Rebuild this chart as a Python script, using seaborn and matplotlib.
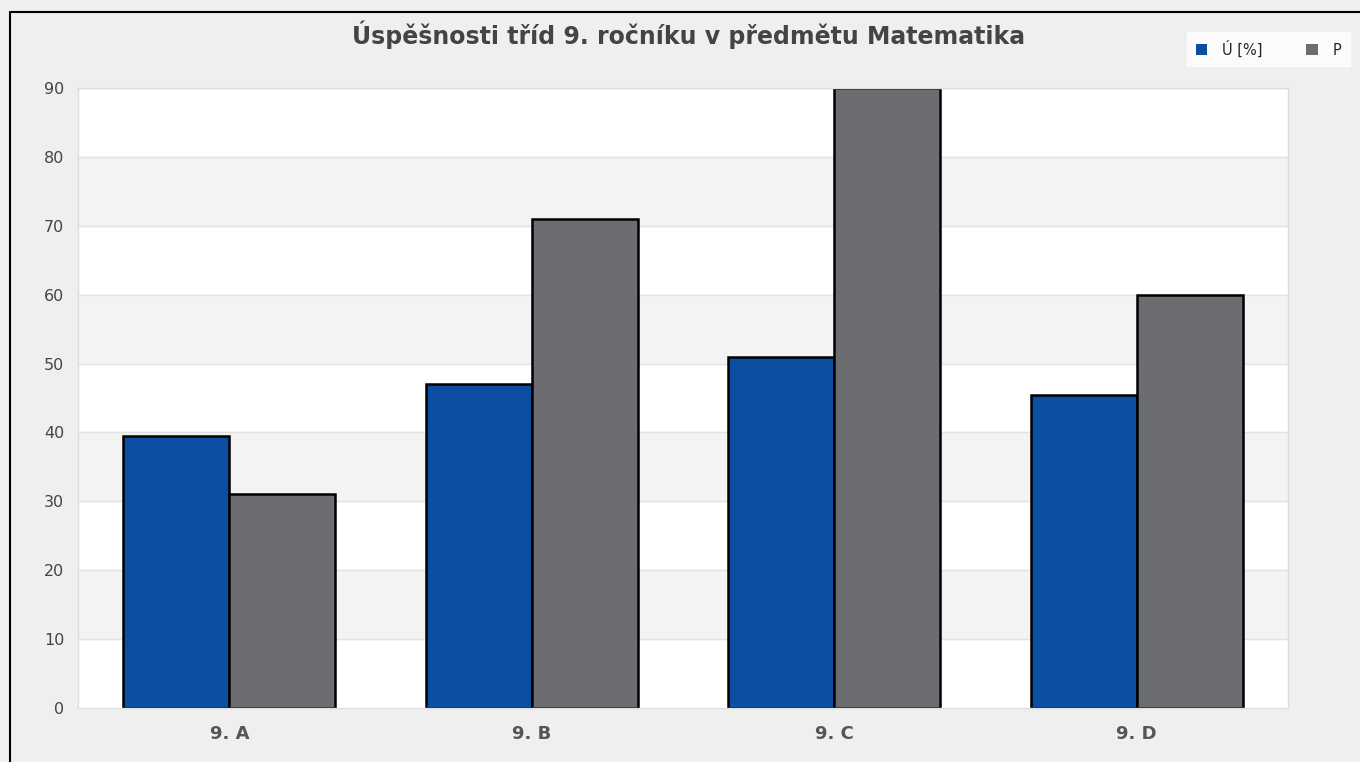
import pandas as pd
import matplotlib
matplotlib.use("Agg")
import matplotlib.pyplot as plt
import seaborn as sns
from matplotlib.lines import Line2D
from matplotlib.patches import Patch

# Donnees
tridy = ["9. A", "9. B", "9. C", "9. D"]
uspesnost = [39.5, 47, 51, 45.5]
p_hodnoty = [31, 71, 90, 60]
serie = ["Ú [%]", "P"]
barvy = ["#0b4ea2", "#6c6d70"]
yticks = [0, 10, 20, 30, 40, 50, 60, 70, 80, 90]

df = pd.DataFrame({
    "trida": tridy * 2,
    "hodnota": uspesnost + p_hodnoty,
    "serie": [serie[0]] * 4 + [serie[1]] * 4,
})

sns.set_style("white")
plt.rcParams["font.family"] = ["DejaVu Sans"]

fig = plt.figure(figsize=(13.6, 7.62), dpi=100, facecolor="#efefef")
ax = fig.add_axes([0.0574, 0.0709, 0.8897, 0.8136])
ax.set_facecolor("white")

# bandes alternees
for lo in yticks[1::2]:
    ax.axhspan(lo, lo + 10, color="#f3f3f3", zorder=0)
for y in yticks[1:]:
    ax.axhline(y, color="#e2e2e2", lw=1, zorder=0.5)

sns.barplot(data=df, x="trida", y="hodnota", hue="serie", palette=barvy,
            saturation=1, width=0.7, edgecolor="black", linewidth=1.8, ax=ax,
            legend=False, zorder=2)

ax.set_ylim(0, 90)
ax.set_xlim(-0.5, 3.5)
ax.set_yticks(yticks)
ax.set_yticklabels([str(t) for t in yticks], fontsize=11.5, color="#444444")
ax.tick_params(axis="y", length=0, pad=10)
ax.tick_params(axis="x", length=0, pad=12)
for lab in ax.get_xticklabels():
    lab.set_fontweight("bold")
    lab.set_fontsize(13)
    lab.set_color("#555555")
ax.set_xlabel("")
ax.set_ylabel("")
for s in ax.spines.values():
    s.set_color("#dddddd")
    s.set_linewidth(1)

fig.text(0.506, 0.954, "Úspěšnosti tříd 9. ročníku v předmětu Matematika",
         ha="center", va="center", fontsize=17, fontweight="bold", color="#444444")

handles = [Patch(facecolor=c, edgecolor="none") for c in barvy]
leg = fig.legend(handles, serie, loc="upper right", bbox_to_anchor=(0.998, 0.968),
                 ncol=2, frameon=True, fancybox=False, fontsize=10.5,
                 handlelength=0.8, handleheight=0.8, columnspacing=3.0,
                 borderpad=0.6, handletextpad=1.0)
leg.get_frame().set_facecolor("white")
leg.get_frame().set_edgecolor("white")

# cadre noir en haut et a gauche
fig.add_artist(Line2D([0.0075, 0.0075], [0, 0.984], color="black", lw=1.5))
fig.add_artist(Line2D([0.0075, 1.0], [0.984, 0.984], color="black", lw=1.5))

fig.savefig("out.png", dpi=100, facecolor=fig.get_facecolor())
